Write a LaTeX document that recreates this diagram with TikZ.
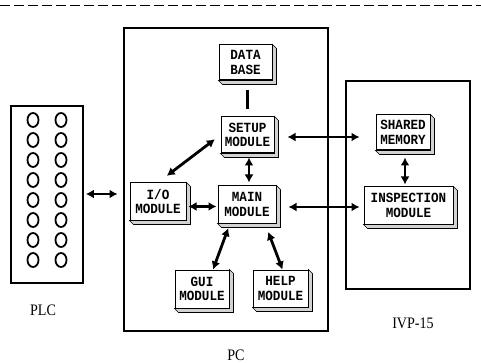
\documentclass[tikz,border=0pt]{standalone}
\usepackage{fontspec}
\usetikzlibrary{arrows.meta}
\newfontfamily\modfont[FakeStretch=0.9]{Liberation Mono}
\newfontfamily\lblfont[FakeStretch=0.88]{Liberation Serif}
\begin{document}
\begin{tikzpicture}[x=1pt,y=-1pt,
  module/.style={draw,line width=1pt,fill=white,align=center,inner sep=1pt,
    font=\modfont\bfseries\fontsize{14}{14.5}\selectfont},
  frame/.style={draw,line width=1.7pt,inner sep=0pt},
  biarrow/.style={line width=2.8pt,{Latex[length=8pt,width=9pt]}-{Latex[length=8pt,width=9pt]}},
  caption/.style={font=\lblfont\fontsize{16}{16}\selectfont}]
  \useasboundingbox (0,0) rectangle (481,363);
  % top rule
  \draw[line width=1pt,dash pattern=on 10pt off 4pt] (0,6) -- (481,6);
  % containers
  \node[frame,minimum width=72,minimum height=177] (plc) at (47,194.5) {};
  \node[frame,minimum width=204,minimum height=303] (pc) at (226,179.5) {};
  \node[frame,minimum width=124,minimum height=208] (ivp) at (408,185) {};
  % PLC terminals
  \foreach \r in {0,...,7}
    \foreach \c in {33,61}
      \draw[line width=1.8pt] (\c,120+20*\r) ellipse [x radius=5.5, y radius=7];
  % modules
  \node[module,minimum width=53,minimum height=35] (db) at (245.5,62.5) {DATA\\BASE};
  \node[module,minimum width=53,minimum height=36] (setup) at (247.5,135) {SETUP\\MODULE};
  \node[module,minimum width=58,minimum height=37] (main) at (247,204.5) {MAIN\\MODULE};
  \node[module,minimum width=56,minimum height=37] (io) at (158,201.5) {I/O\\MODULE};
  \node[module,minimum width=54,minimum height=38] (gui) at (202,289) {GUI\\MODULE};
  \node[module,minimum width=55,minimum height=37] (help) at (280.5,288.5) {HELP\\MODULE};
  \node[module,minimum width=54,minimum height=35] (shared) at (403,132.5) {SHARED\\MEMORY};
  \node[module,minimum width=89,minimum height=37] (insp) at (408.5,205.5) {INSPECTION\\MODULE};
  % 3d edges
  \foreach \n in {db,setup,main,io,gui,help,shared,insp}
    \filldraw[fill=gray!35,line width=0.6pt] (\n.north east) -- ++(4,4)
      -- ([shift={(4pt,-4pt)}]\n.south east) -- ([shift={(4pt,-4pt)}]\n.south west)
      -- (\n.south west) -- (\n.south east) -- cycle;
  % captions
  \node[caption] (plclbl) at (43,310) {PLC};
  \node[caption] (pclbl) at (236,355) {PC};
  \node[caption] (ivplbl) at (413,323) {IVP-15};
  % links
  \draw[line width=3pt,shorten <=10pt,shorten >=7pt] ([xshift=1.5pt]db.south) -- ([xshift=1.5pt]db.south |- setup.north);
  \draw[biarrow,shorten <=4pt,shorten >=3pt] ([xshift=1.5pt]setup.south) -- ([xshift=1.5pt]setup.south |- main.north);
  \draw[biarrow,shorten <=7pt,shorten >=11pt] (setup.west) -- (io.north);
  \draw[biarrow,shorten <=2pt,shorten >=1pt] ([yshift=-5pt]io.east) -- ([yshift=-5pt]io.east -| main.west);
  \draw[biarrow,shorten <=5pt] ([xshift=-17pt]main.south) -- ([xshift=11pt]gui.north);
  \draw[biarrow,shorten <=9pt] ([xshift=18pt]main.south) -- ([xshift=2pt]help.north);
  \draw[biarrow,shorten <=2pt,shorten >=12pt] ([yshift=7.5pt]io.west -| plc.east) -- ([yshift=7.5pt]io.west);
  \draw[biarrow,shorten <=13pt,shorten >=16pt] ([yshift=-2pt]setup.east) -- ([yshift=-2pt]setup.east -| shared.west);
  \draw[biarrow,shorten <=12pt,shorten >=4pt] ([yshift=-2.5pt]main.east) -- ([yshift=-2.5pt]main.east -| insp.west);
  \draw[biarrow,shorten <=7pt,shorten >=2pt] ([xshift=2pt]shared.south) -- ([xshift=2pt]shared.south |- insp.north);
\end{tikzpicture}
\end{document}
